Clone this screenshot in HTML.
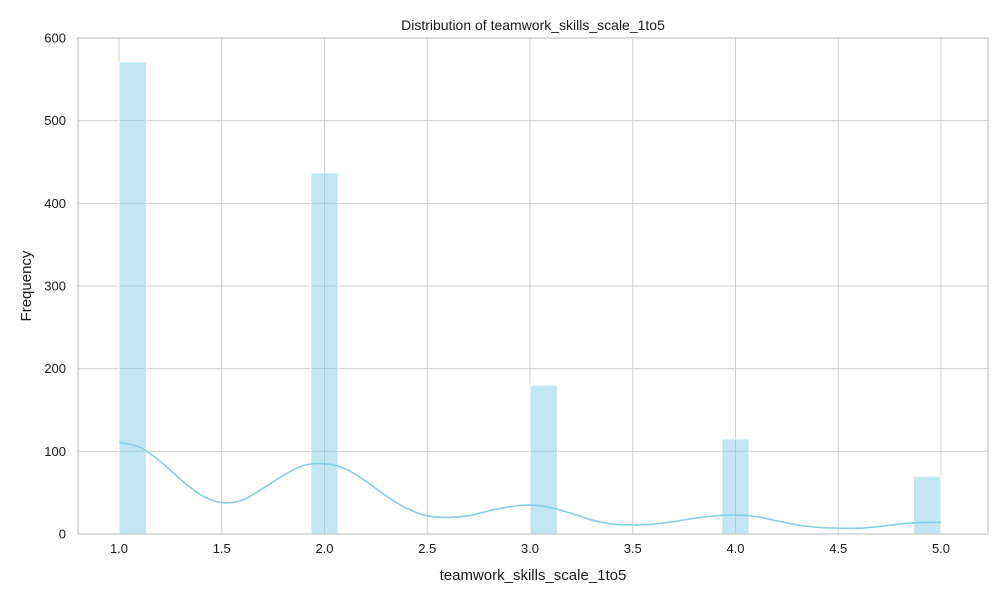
<!DOCTYPE html>
<html><head><meta charset="utf-8"><style>
html,body{margin:0;padding:0;background:#fff;}
svg{display:block;font-family:"Liberation Sans","DejaVu Sans",sans-serif;}
</style></head><body>
<svg id="chart" width="1000" height="600">
<rect width="1000" height="600" fill="#fff"/>
<g id="grid"></g><g id="bars"></g><g id="kde"></g><g id="axes"></g>
</svg>
<script>
const binCenters = [1.0667, 2.0, 3.0667, 4.0, 4.9333];
const binCounts = [571, 437, 180, 115, 70];
const binWidth = 4/30;
const kdeX = [1.0,1.1,1.2,1.3,1.4,1.5,1.6,1.7,1.8,1.9,2.0,2.1,2.2,2.3,2.4,2.5,2.6,2.7,2.8,2.9,3.0,3.1,3.2,3.3,3.4,3.5,3.6,3.7,3.8,3.9,4.0,4.1,4.2,4.3,4.4,4.5,4.6,4.7,4.8,4.9,5.0];
const kdeY = [111,105,88,66,47,38,41,55,71,83,85,79,64,46,31,22,20,22,28,33,35,32,25,17,12,11,12,15,19,22,23,21,16,11,8,7,7,9,12,14,14];
const xTicks = [1.0,1.5,2.0,2.5,3.0,3.5,4.0,4.5,5.0];
const yTicks = [0,100,200,300,400,500,600];

const L=78,R=988,T=38,B=534;
const xs = v => 119 + (v-1)*205.5;
const ys = v => B - v*(B-T)/600;
const NS="http://www.w3.org/2000/svg";
function mk(tag, parent, attrs){const e=document.createElementNS(NS,tag);for(const k in attrs)e.setAttribute(k,attrs[k]);parent.appendChild(e);return e;}
const grid=document.getElementById('grid'), bars=document.getElementById('bars'), kde=document.getElementById('kde'), axes=document.getElementById('axes');

xTicks.forEach(t=>{
  const l=mk('line',grid,{x1:xs(t),x2:xs(t),y1:T,y2:B,stroke:'#d0d0d0','stroke-width':1});
  
  
  const tx=mk('text',axes,{x:xs(t),y:B+19,'text-anchor':'middle','font-size':13,fill:'#1a1a1a'});
  tx.textContent=t.toFixed(1);
  
  
});
yTicks.forEach(t=>{
  const l=mk('line',grid,{x1:L,x2:R,y1:ys(t),y2:ys(t),stroke:'#d0d0d0','stroke-width':1});
  
  
  const tx=mk('text',axes,{x:L-12,y:ys(t)+4.5,'text-anchor':'end','font-size':13,fill:'#1a1a1a'});
  tx.textContent=t;
  
  
});
binCenters.forEach((c,i)=>{
  const x0=xs(c-binWidth/2), x1=xs(c+binWidth/2);
  const r=mk('rect',bars,{x:x0,y:ys(binCounts[i]),width:x1-x0,height:B-ys(binCounts[i]),fill:'#87ceeb','fill-opacity':0.5,stroke:'#fff','stroke-width':1});
  
  
});
const P=kdeX.map((x,i)=>[xs(x),ys(kdeY[i])]);
let d=`M${P[0][0]},${P[0][1]}`;
for(let i=0;i<P.length-1;i++){
  const p0=P[Math.max(i-1,0)],p1=P[i],p2=P[i+1],p3=P[Math.min(i+2,P.length-1)];
  d+=` C${p1[0]+(p2[0]-p0[0])/6},${p1[1]+(p2[1]-p0[1])/6} ${p2[0]-(p3[0]-p1[0])/6},${p2[1]-(p3[1]-p1[1])/6} ${p2[0]},${p2[1]}`;
}
const kp=mk('path',kde,{d:d,fill:'none',stroke:'#87ceeb','stroke-width':1.6});



const fr=mk('rect',axes,{x:L,y:T,width:R-L,height:B-T,fill:'none',stroke:'#c8c8c8','stroke-width':1.25});


const ti=mk('text',axes,{x:(L+R)/2,y:30,'text-anchor':'middle','font-size':14,fill:'#1a1a1a'});
ti.textContent='Distribution of teamwork_skills_scale_1to5';


const xl=mk('text',axes,{x:(L+R)/2,y:580,'text-anchor':'middle','font-size':15,fill:'#1a1a1a'});
xl.textContent='teamwork_skills_scale_1to5';


const yl=mk('text',axes,{x:0,y:0,'text-anchor':'middle','font-size':15,fill:'#1a1a1a',transform:`translate(31,${(T+B)/2}) rotate(-90)`});
yl.textContent='Frequency';


</script>
</body></html>
